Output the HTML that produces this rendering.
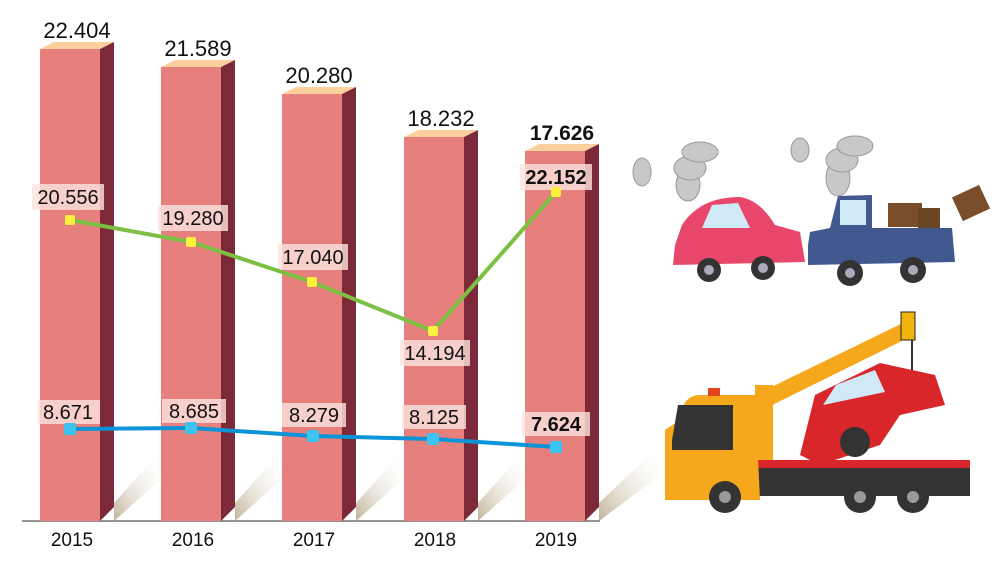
<!DOCTYPE html>
<html><head><meta charset="utf-8"><style>
body{margin:0;background:#fff;}
svg{display:block;font-family:"Liberation Sans",sans-serif;}
</style></head><body>
<svg width="1000" height="563" viewBox="0 0 1000 563">
<defs>
<linearGradient id="sh" x1="0" y1="1" x2="1" y2="0">
<stop offset="0" stop-color="#c2b398"/><stop offset="1" stop-color="#fff" stop-opacity="0"/>
</linearGradient>
</defs>
<g fill="url(#sh)">
<polygon points="114,521 114,503 160,452 160,480"/>
<polygon points="235,521 235,503 281,452 281,480"/>
<polygon points="356,521 356,503 402,452 402,480"/>
<polygon points="478,521 478,503 524,452 524,480"/>
<polygon points="599,521 599,503 660,445 660,475"/>
</g>
<line x1="22" y1="521" x2="600" y2="521" stroke="#555" stroke-width="1.2"/>
<g>
<polygon points="40,49 54,42 114,42 100,49" fill="#fbd09c"/><rect x="40" y="49" width="60" height="472" fill="#e77f7c"/><polygon points="100,49 114,42 114,507 100,521" fill="#7c2a39"/>
<polygon points="161,67 175,60 235,60 221,67" fill="#fbd09c"/><rect x="161" y="67" width="60" height="454" fill="#e77f7c"/><polygon points="221,67 235,60 235,507 221,521" fill="#7c2a39"/>
<polygon points="282,94 296,87 356,87 342,94" fill="#fbd09c"/><rect x="282" y="94" width="60" height="427" fill="#e77f7c"/><polygon points="342,94 356,87 356,507 342,521" fill="#7c2a39"/>
<polygon points="404,137 418,130 478,130 464,137" fill="#fbd09c"/><rect x="404" y="137" width="60" height="384" fill="#e77f7c"/><polygon points="464,137 478,130 478,507 464,521" fill="#7c2a39"/>
<polygon points="525,151 539,144 599,144 585,151" fill="#fbd09c"/><rect x="525" y="151" width="60" height="370" fill="#e77f7c"/><polygon points="585,151 599,144 599,507 585,521" fill="#7c2a39"/>
</g>
<g font-size="22" fill="#111" text-anchor="middle">
<text x="77" y="38">22.404</text>
<text x="198" y="56">21.589</text>
<text x="319" y="83">20.280</text>
<text x="441" y="126">18.232</text>
<text x="562" y="140" font-weight="bold" font-size="21">17.626</text>
</g>
<g font-size="19" fill="#111" text-anchor="middle">
<text x="72" y="546">2015</text><text x="193" y="546">2016</text><text x="314" y="546">2017</text><text x="435" y="546">2018</text><text x="556" y="546">2019</text>
</g>
<g fill="#fbe3df" opacity="0.8">
<rect x="32" y="184" width="72" height="26"/><rect x="158" y="205" width="70" height="26"/><rect x="278" y="244" width="70" height="26"/><rect x="400" y="340" width="70" height="26"/><rect x="520" y="164" width="72" height="26"/>
<rect x="38" y="400" width="62" height="24"/><rect x="162" y="399" width="64" height="24"/><rect x="282" y="403" width="64" height="24"/><rect x="402" y="405" width="64" height="24"/><rect x="522" y="412" width="68" height="24"/>
</g>
<polyline points="70,220 191,242 312,282 433,331 556,192" fill="none" stroke="#7cc043" stroke-width="4"/>
<polyline points="70,429 191,428 313,436 433,439 556,447" fill="none" stroke="#0a93d7" stroke-width="4"/>
<g fill="#fbf03b"><rect x="65" y="215" width="10" height="10" rx="2"/><rect x="186" y="237" width="10" height="10" rx="2"/><rect x="307" y="277" width="10" height="10" rx="2"/><rect x="428" y="326" width="10" height="10" rx="2"/><rect x="551" y="187" width="10" height="10" rx="2"/></g>
<g fill="#3cc3ef"><rect x="64" y="423" width="12" height="12" rx="2"/><rect x="185" y="422" width="12" height="12" rx="2"/><rect x="307" y="430" width="12" height="12" rx="2"/><rect x="427" y="433" width="12" height="12" rx="2"/><rect x="550" y="441" width="12" height="12" rx="2"/></g>
<g font-size="20" fill="#111" text-anchor="middle">
<text x="68" y="204">20.556</text><text x="193" y="225">19.280</text><text x="313" y="264">17.040</text><text x="435" y="360">14.194</text><text x="556" y="184" font-weight="bold">22.152</text>
<text x="68" y="419">8.671</text><text x="194" y="418">8.685</text><text x="314" y="422">8.279</text><text x="434" y="424">8.125</text><text x="556" y="431" font-weight="bold">7.624</text>
</g>
<g fill="#c8c8c8" stroke="#999" stroke-width="1">
<ellipse cx="688" cy="185" rx="12" ry="16"/><ellipse cx="690" cy="168" rx="16" ry="12"/><ellipse cx="700" cy="152" rx="18" ry="10"/><ellipse cx="642" cy="172" rx="9" ry="14"/>
<ellipse cx="838" cy="178" rx="12" ry="18"/><ellipse cx="842" cy="160" rx="16" ry="12"/><ellipse cx="855" cy="146" rx="18" ry="10"/><ellipse cx="800" cy="150" rx="9" ry="12"/>
</g>
<path d="M675,245 L682,225 Q700,197 740,197 Q760,200 775,225 L800,232 L805,262 L673,265 Z" fill="#e8476b"/>
<path d="M702,228 L712,205 L738,203 L750,228 Z" fill="#cfe9f6"/>
<path d="M808,245 L810,232 L830,228 L838,196 L872,195 L872,228 L952,228 L955,262 L808,265 Z" fill="#41598f"/>
<rect x="840" y="200" width="26" height="25" fill="#cfe9f6"/>
<rect x="888" y="203" width="34" height="24" fill="#7a4e2a"/><rect x="918" y="208" width="22" height="20" fill="#6b4423"/>
<rect x="956" y="190" width="30" height="26" fill="#7a4e2a" transform="rotate(-25 971 203)"/>
<g fill="#333"><circle cx="709" cy="270" r="12"/><circle cx="763" cy="268" r="12"/><circle cx="850" cy="273" r="13"/><circle cx="913" cy="270" r="13"/></g>
<g fill="#aab"><circle cx="709" cy="270" r="5"/><circle cx="763" cy="268" r="5"/><circle cx="850" cy="273" r="5"/><circle cx="913" cy="270" r="5"/></g>
<polygon points="755,395 905,322 912,336 762,410" fill="#f6a81c"/>
<rect x="755" y="385" width="18" height="90" fill="#f6a81c"/>
<rect x="901" y="312" width="14" height="28" fill="#f2b40b" stroke="#222" stroke-width="1"/>
<line x1="912" y1="340" x2="912" y2="400" stroke="#333" stroke-width="2"/>
<path d="M800,455 L815,395 L880,363 L935,375 L945,405 L900,415 L880,445 L820,465 Z" fill="#d8262b"/>
<path d="M823,405 L836,385 L875,370 L885,392 Z" fill="#cfe9f6"/>
<circle cx="855" cy="442" r="15" fill="#333"/>
<rect x="755" y="460" width="215" height="8" fill="#d8262b"/>
<rect x="755" y="468" width="215" height="28" fill="#333"/>
<path d="M680,420 Q682,395 700,395 L755,395 L760,500 L665,500 L665,430 Z" fill="#f6a81c"/>
<rect x="708" y="388" width="12" height="8" fill="#e2451d"/>
<path d="M672,440 L678,405 L733,405 L733,450 L672,450 Z" fill="#333"/>
<g fill="#333"><circle cx="725" cy="497" r="16"/><circle cx="860" cy="497" r="16"/><circle cx="913" cy="497" r="16"/></g>
<g fill="#999"><circle cx="725" cy="497" r="6"/><circle cx="860" cy="497" r="6"/><circle cx="913" cy="497" r="6"/></g>
</svg>
</body></html>
